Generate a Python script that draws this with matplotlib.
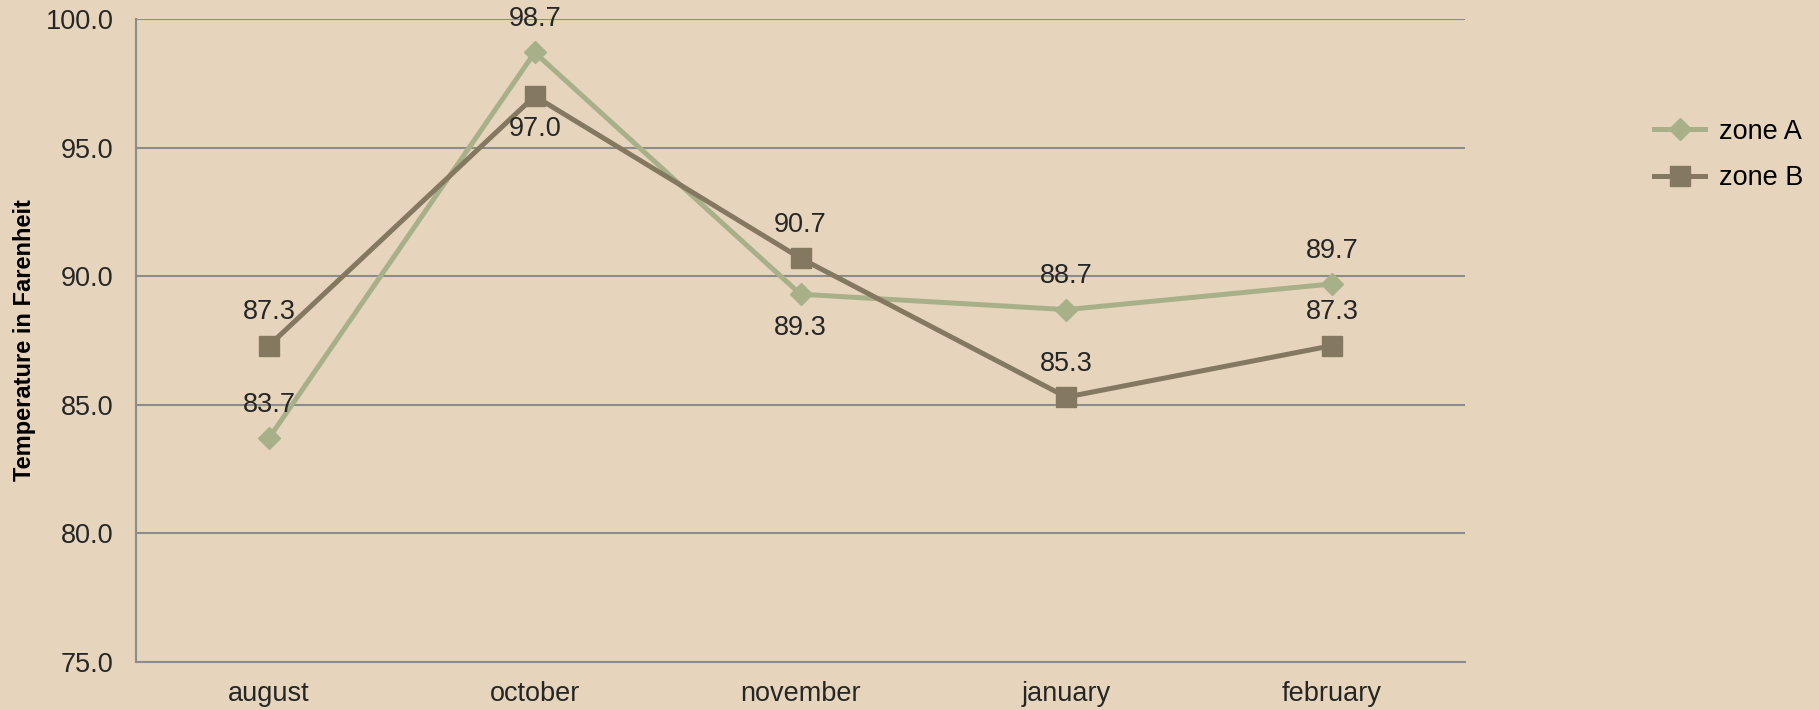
import matplotlib.pyplot as plt

months = ['august', 'october', 'november', 'january', 'february']
zone_a = [83.7, 98.7, 89.3, 88.7, 89.7]
zone_b = [87.3, 97.0, 90.7, 85.3, 87.3]
# label above (+1) or below (-1) the point
pos_a = [1, 1, -1, 1, 1]
pos_b = [1, -1, 1, 1, 1]

bg = '#e6d5bc'
col_a = '#a8b08a'
col_b = '#857860'
grid_col = '#8c8c8c'

plt.rcParams['font.family'] = ['Liberation Sans', 'DejaVu Sans']

fig = plt.figure(figsize=(18.19, 7.10), dpi=100, facecolor=bg)
ax = fig.add_axes([136/1819, 1 - 662/710, (1465-136)/1819, (662-19)/710])
ax.set_facecolor(bg)

x = list(range(len(months)))
ax.plot(x, zone_a, color=col_a, lw=3.6, marker='D', ms=11, label='zone A')
ax.plot(x, zone_b, color=col_b, lw=3.6, marker='s', ms=14, label='zone B')

for xi, v, p in zip(x, zone_a, pos_a):
    ax.annotate(f'{v:.1f}', (xi, v), xytext=(0, 24 * p), textcoords='offset points',
                ha='center', va='center', fontsize=19.5, color='#262626')
for xi, v, p in zip(x, zone_b, pos_b):
    ax.annotate(f'{v:.1f}', (xi, v), xytext=(0, 24 * p), textcoords='offset points',
                ha='center', va='center', fontsize=19.5, color='#262626')

ax.set_xlim(-0.5, 4.5)
ax.set_ylim(75, 100)
ax.set_yticks([75, 80, 85, 90, 95, 100])
ax.set_yticklabels([f'{t:.1f}' for t in [75, 80, 85, 90, 95, 100]])
ax.set_xticks(x)
ax.set_xticklabels(months)
ax.tick_params(length=0, labelsize=19.5, labelcolor='#262626')
ax.tick_params(axis='y', pad=16)
ax.tick_params(axis='x', pad=14)
ax.yaxis.grid(True, color=grid_col, lw=1.5)
ax.set_axisbelow(True)
for s in ['top', 'right']:
    ax.spines[s].set_visible(False)
ax.spines['left'].set_color(grid_col)
ax.spines['left'].set_linewidth(1.5)
ax.spines['bottom'].set_color(grid_col)
ax.spines['bottom'].set_linewidth(1.5)

ax.set_ylabel('Temperature in Farenheit', fontsize=17, fontweight='bold', color='#000000', labelpad=7)

ax.legend(loc='upper left', frameon=False, fontsize=19.5, handlelength=1.9,
          handletextpad=0.5, labelspacing=0.75, borderaxespad=0,
          bbox_to_anchor=(1643/1819, 1 - 108/710), bbox_transform=fig.transFigure)

fig.savefig('out.png', dpi=100, facecolor=bg)
